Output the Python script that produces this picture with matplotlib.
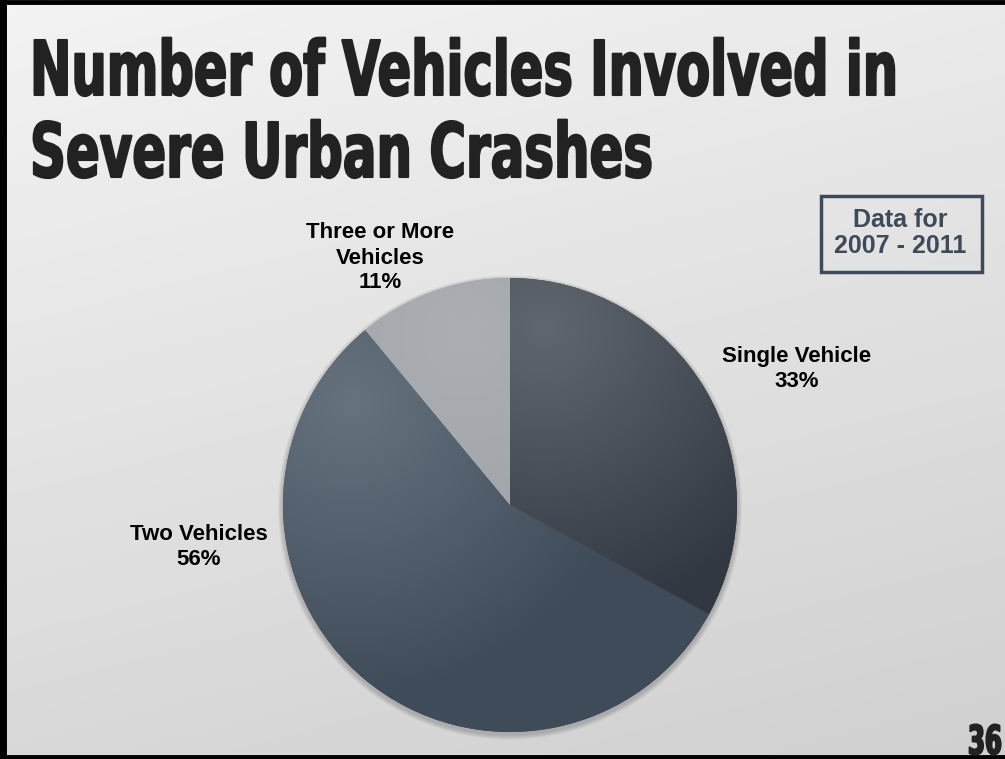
import numpy as np
import matplotlib.pyplot as plt
from matplotlib.patches import Rectangle, Circle
from matplotlib.patheffects import AbstractPathEffect
from matplotlib.transforms import Affine2D
from matplotlib.colors import to_rgb

# slice data, clockwise from 12 o'clock
categories = ['Single Vehicle', 'Two Vehicles', 'Three or More\nVehicles']
shares = [33, 56, 11]
# label centres in pixels from the top-left corner
label_pos = [(797, 369), (199, 547), (380, 258)]

# colour at the highlight point and at the rim for each slice
inner_cols = ['#60676f', '#67727f', '#abaeb2']
outer_cols = ['#313842', '#404b59', '#9da1a7']
hilite = [(0.15, 0.78), (-0.70, 0.45), (-0.2, 0.75)]

W, H = 1005, 759
fig = plt.figure(figsize=(W / 100, H / 100), dpi=100)


class Stretch(AbstractPathEffect):
    """Rescale the glyphs around a fixed pixel anchor (left end of the baseline)."""

    def __init__(self, sx, sy, x0, y0, stroke=0.0):
        super().__init__()
        self.sx, self.sy, self.x0, self.y0, self.stroke = sx, sy, x0, y0, stroke

    def draw_path(self, renderer, gc, tpath, affine, rgbFace=None):
        t = affine + (Affine2D().translate(-self.x0, -self.y0)
                      .scale(self.sx, self.sy).translate(self.x0, self.y0))
        if self.stroke:
            gc0 = renderer.new_gc()
            gc0.copy_properties(gc)
            gc0.set_linewidth(self.stroke)
            gc0.set_foreground(rgbFace)
            renderer.draw_path(gc0, tpath, t, rgbFace)
            gc0.restore()
        else:
            renderer.draw_path(gc, tpath, t, rgbFace)


def tall_text(x, y, s, size, width, cap, **kw):
    # text at pixel x / baseline y, stretched to a pixel width and cap height
    t = fig.text(x / W, 1 - y / H, s, fontsize=size, fontweight='bold',
                 family='DejaVu Sans', va='baseline', ha='left', **kw)
    w = t.get_window_extent(renderer=fig.canvas.get_renderer()).width
    cap0 = 0.729 * size * 100 / 72
    t.set_path_effects([Stretch(width / w, cap / cap0, x, H - y, stroke=1.5)])
    return t


# background gradient
bg = fig.add_axes([0, 0, 1, 1])
yy, xx = np.mgrid[0:1:200j, 0:1:200j]
shade = 0.955 - 0.14 * (0.75 * yy + 0.25 * xx)
bg.imshow(np.dstack([shade] * 3), extent=[0, 1, 0, 1], origin='upper', aspect='auto')
bg.set_xlim(0, 1)
bg.set_ylim(0, 1)
bg.axis('off')
# frame on top, left and bottom
bg.plot([1, 0, 0, 1], [1 - 2 / H, 1 - 2 / H, 2 / H, 2 / H], color='black', lw=3.5,
        solid_joinstyle='miter')
bg.plot([3 / W, 3 / W], [0, 1], color='black', lw=5)

# pie
cx, cy, r = 510, 505, 227
ax = fig.add_axes([(cx - r) / W, (H - cy - r) / H, 2 * r / W, 2 * r / H])
wedges, _ = ax.pie(shares, startangle=90, counterclock=False, radius=1,
                   colors=outer_cols, wedgeprops=dict(linewidth=0, zorder=1))
ax.set_xlim(-1, 1)
ax.set_ylim(-1, 1)
ax.set_aspect('equal')
ax.axis('off')

# soft drop shadow under the disc
px = 1 / r
for k in range(5, 0, -1):
    ax.add_patch(Circle((0, -2.5 * px), 1 + k * px, color='#555555', alpha=0.07,
                        lw=0, zorder=0, clip_on=False))

gy, gx = np.mgrid[1:-1:300j, -1:1:300j]
for w, c0, c1, (hx, hy) in zip(wedges, inner_cols, outer_cols, hilite):
    a = np.array(to_rgb(c0))
    b = np.array(to_rgb(c1))
    d = np.clip(np.hypot(gx - hx, gy - hy) / 1.3, 0, 1)[..., None]
    img = a * (1 - d) + b * d
    im = ax.imshow(img, extent=[-1, 1, -1, 1], origin='upper', zorder=2)
    im.set_clip_path(w)
ax.set_xlim(-1, 1)
ax.set_ylim(-1, 1)

for name, val, (lx, ly) in zip(categories, shares, label_pos):
    fig.text(lx / W, 1 - ly / H, f'{name}\n{val}%', ha='center', va='center',
             fontsize=16, fontweight='bold', family='Liberation Sans',
             linespacing=1.25, color='black')

# title
tall_text(30, 95, 'Number of Vehicles Involved in', 38, 867, 55, color='#222222')
tall_text(30, 177, 'Severe Urban Crashes', 38, 622, 55, color='#222222')

# date box
bg.add_patch(Rectangle((821 / W, 1 - 272 / H), 161 / W, 76 / H, fill=False,
                       ec='#3e4a5a', lw=2.5))
fig.text(900 / W, 1 - 233 / H, 'Data for\n2007 - 2011', ha='center', va='center',
         fontsize=18, fontweight='bold', family='Liberation Sans', color='#3e4a5a',
         linespacing=1.15)

# slide number
tall_text(968, 754, '36', 20, 34, 29, color='#222222')

fig.savefig('out.png', dpi=100)
